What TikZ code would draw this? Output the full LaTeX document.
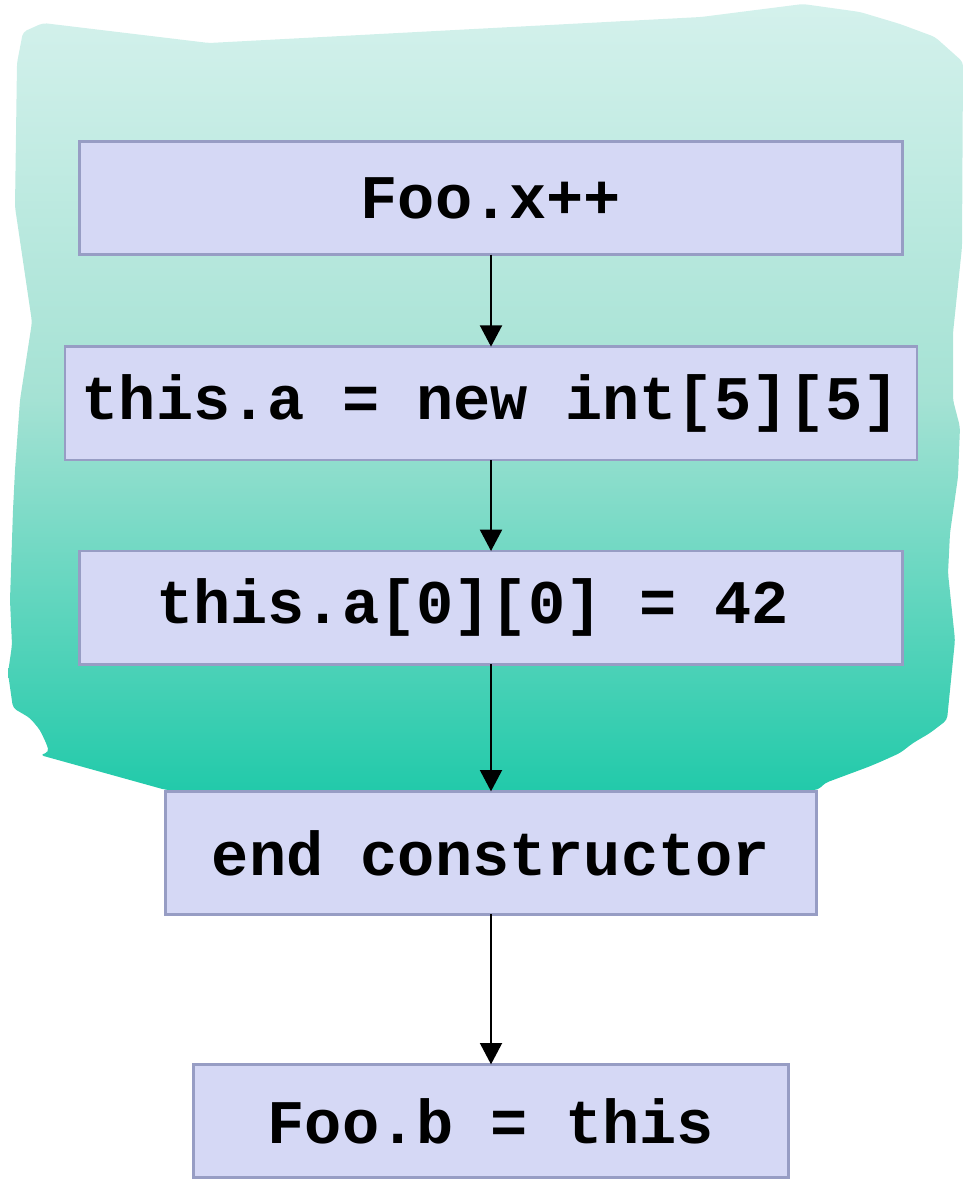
\documentclass[tikz,border=0pt]{standalone}
\usepackage{fontspec}
\setmonofont{Liberation Mono}
\usetikzlibrary{positioning,arrows.meta}

\definecolor{stmtfill}{RGB}{213,216,245}
\definecolor{stmtline}{RGB}{151,157,196}
\definecolor{ctortop}{RGB}{212,241,236}
\definecolor{ctormid}{RGB}{165,226,212}
\definecolor{ctorbot}{RGB}{34,202,170}

\begin{document}
\begin{tikzpicture}[x=0.75pt,y=-0.75pt,>={Triangle[length=16pt,width=16.5pt]},
    stmt/.style={draw=stmtline,fill=stmtfill,line width=2.2pt,minimum height=85pt,inner sep=0pt,outer sep=0pt,
      font=\ttfamily\bfseries\fontsize{46.5}{50}\selectfont}]
    \useasboundingbox (0,0) rectangle (965,1180);
    % constructor region
    \path[top color=ctortop,bottom color=ctorbot,middle color=ctormid,rounded corners=3pt]
      (23,32) -- (43,23) -- (209,43) -- (701,17) -- (803,4) -- (860,12) -- (900,24)
      -- (935,37) -- (963,62) -- (962,247) -- (953,333) -- (953,400) -- (960,427)
      -- (958,477) -- (950,533) -- (948,573) -- (955,640) -- (947,720) -- (930,733)
      -- (913,743) -- (900,753) -- (880,762) -- (868,767) -- (825,783) -- (818,790)
      -- (166,790) -- (40,755) -- (49,752) -- (47,745) -- (40,730) -- (30,718)
      -- (13,708) -- (8,673) -- (12,645) -- (10,600) -- (13,510) -- (15,470)
      -- (20,400) -- (32,322) -- (15,207) -- (17,63) -- cycle;
    \node[stmt,minimum width=617pt] (inc) at (491,198) {Foo.x++};
    \node[stmt,minimum width=639pt] (alloc) [below=69pt of inc] {this.a = new int[5][5]};
    \node[stmt,minimum width=617pt] (store) [below=68.25pt of alloc] {this.a[0][0] = 42\phantom{0}};
    \node[stmt,minimum width=488pt,minimum height=92.25pt] (endctor) [below=95.25pt of store] {end constructor};
    \node[stmt,minimum width=446pt] (publish) [below=112.5pt of endctor] {Foo.b = this};
    \path[->,line width=1.5pt]
    (inc) edge (alloc)
    (alloc) edge (store)
    (store) edge (endctor)
    (endctor) edge (publish);
\end{tikzpicture}
\end{document}
